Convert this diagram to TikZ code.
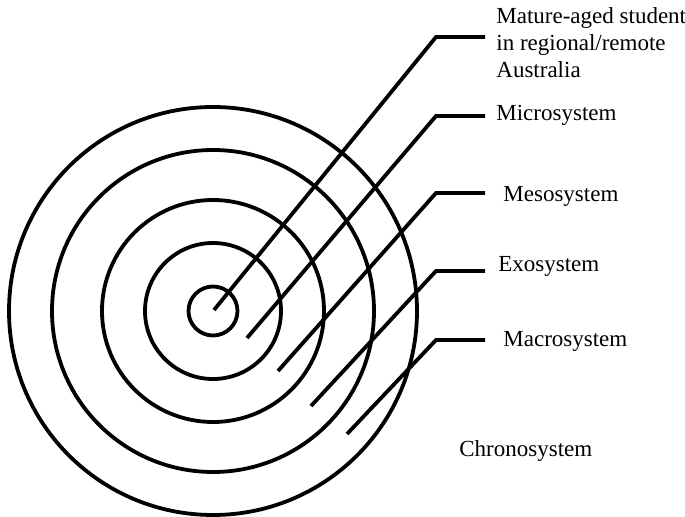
\documentclass[tikz,border=0pt]{standalone}
\usepackage{fontspec}
\setmainfont{Liberation Serif}
\usetikzlibrary{positioning}
\tikzset{
  ring/.style={line width=1.9pt},
  leader/.style={line width=1.9pt},
  lbl/.style={anchor=base west, inner sep=0pt, align=left, font=\fontsize{11.5pt}{13.5pt}\selectfont}
}
\begin{document}
\begin{tikzpicture}[x=0.5pt, y=-0.5pt]
  \useasboundingbox (0,0) rectangle (685,517);
  % rings
  \coordinate (c) at (213,311);
  \foreach \r in {24.5,68,111,161,204}
    \draw[ring] (c) circle[radius=\r];
  % labels (base = last line)
  \node[lbl] (student) at (496,77.3) {Mature-aged student\\in regional/remote\\Australia};
  \node[lbl] (micro) at (496,120.7) {Microsystem};
  \node[lbl] (meso) at (503,202) {Mesosystem};
  \node[lbl] (exo) at (498,272) {Exosystem};
  \node[lbl] (macro) at (503,347) {Macrosystem};
  \node[lbl] (chrono) at (459,457) {Chronosystem};
  % leader lines
  \coordinate (tail) at (485,0);
  \coordinate (s1) at (214,310); \coordinate (k1) at (436,37);
  \coordinate (s2) at (247,338); \coordinate (k2) at (436,116);
  \coordinate (s3) at (278,371); \coordinate (k3) at (436,193);
  \coordinate (s4) at (311,406); \coordinate (k4) at (436,271);
  \coordinate (s5) at (347,434); \coordinate (k5) at (436,340);
  \draw[leader] (s1) -- (k1) -- (k1 -| tail);
  \draw[leader] (s2) -- (k2) -- (k2 -| tail);
  \draw[leader] (s3) -- (k3) -- (k3 -| tail);
  \draw[leader] (s4) -- (k4) -- (k4 -| tail);
  \draw[leader] (s5) -- (k5) -- (k5 -| tail);
\end{tikzpicture}
\end{document}
